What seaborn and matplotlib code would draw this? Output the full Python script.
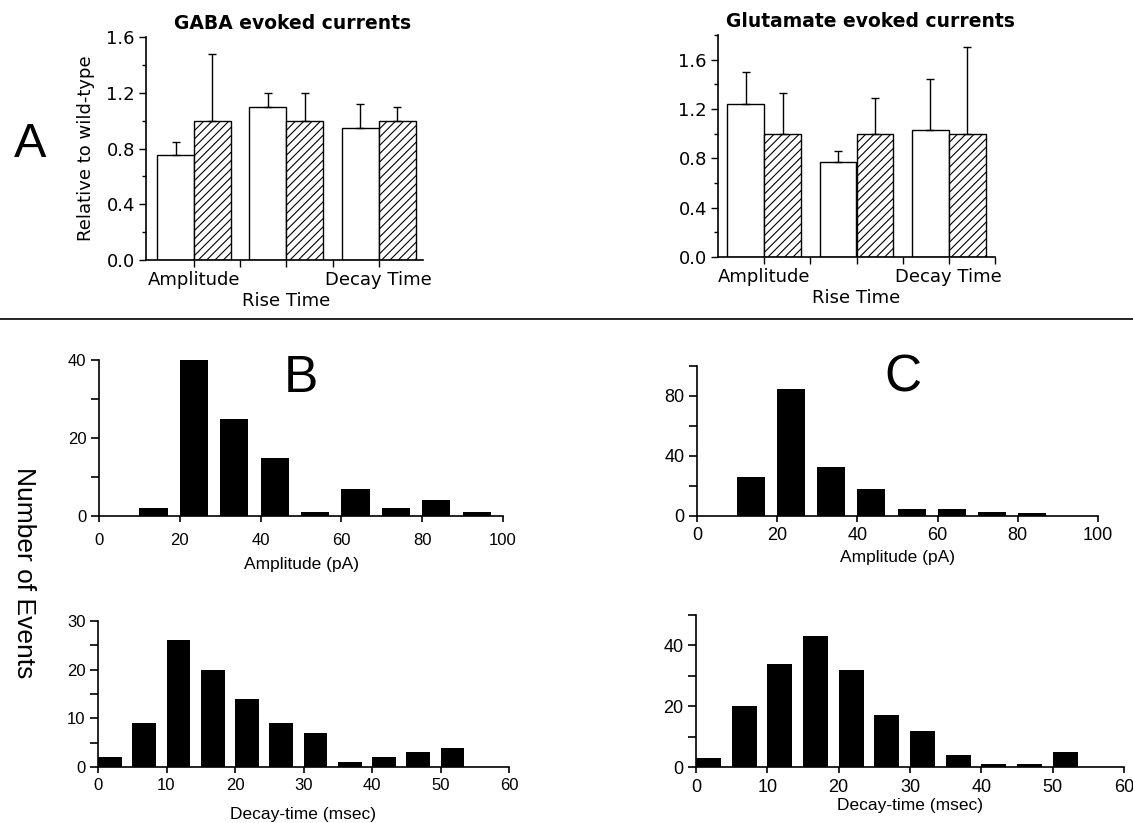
import numpy as np
import pandas as pd
import matplotlib
matplotlib.use("Agg")
import matplotlib.pyplot as plt
from matplotlib.lines import Line2D
from matplotlib.ticker import MultipleLocator, FixedLocator, FormatStrFormatter
import seaborn as sns

# Panel A: evoked currents, relative to wild-type (white = mutant, hatched = wild-type)
measures = ["Amplitude", "Rise Time", "Decay Time"]
genotypes = ["mutant", "wild-type"]
gaba_mutant = [0.75, 1.10, 0.95]
gaba_mutant_err = [0.10, 0.10, 0.17]
gaba_wt = [1.0, 1.0, 1.0]
gaba_wt_err = [0.48, 0.20, 0.10]
glu_mutant = [1.24, 0.77, 1.03]
glu_mutant_err = [0.26, 0.09, 0.41]
glu_wt = [1.0, 1.0, 1.0]
glu_wt_err = [0.33, 0.29, 0.70]

# Panels B / C: event histograms (bin left edges and counts)
amp_bin_w = 10
decay_bin_w = 5
b_amp_bins = [10, 20, 30, 40, 50, 60, 70, 80, 90]
b_amp_counts = [2, 40, 25, 15, 1, 7, 2, 4, 1]
c_amp_bins = [10, 20, 30, 40, 50, 60, 70, 80]
c_amp_counts = [26, 85, 33, 18, 5, 5, 3, 2]
b_decay_bins = [0, 5, 10, 15, 20, 25, 30, 35, 40, 45, 50]
b_decay_counts = [2, 9, 26, 20, 14, 9, 7, 1, 2, 3, 4]
c_decay_bins = [0, 5, 10, 15, 20, 25, 30, 35, 40, 45, 50]
c_decay_counts = [3, 20, 34, 43, 32, 17, 12, 4, 1, 1, 5]

W, H = 1133, 823

sns.set_style("ticks")
plt.rcParams["font.family"] = ["Liberation Sans", "DejaVu Sans"]
plt.rcParams["hatch.linewidth"] = 0.8
plt.rcParams["axes.linewidth"] = 1.2
for key in ["text.color", "axes.labelcolor", "xtick.color", "ytick.color",
            "axes.edgecolor"]:
    plt.rcParams[key] = "black"


def px_box(left, top, right, bottom):
    """Axes rectangle from pixel edges (origin top-left)."""
    return [left / W, 1 - bottom / H, (right - left) / W, (bottom - top) / H]


def evoked_panel(ax, mutant, mutant_err, wt, wt_err, title, ylim, xlim, title_x):
    df = pd.DataFrame({
        "measure": measures * 2,
        "genotype": ["mutant"] * 3 + ["wild-type"] * 3,
        "value": list(mutant) + list(wt),
    })
    sns.barplot(data=df, x="measure", y="value", hue="genotype",
                order=measures, hue_order=genotypes,
                palette=["white", "white"], saturation=1, width=0.8,
                edgecolor="black", linewidth=1, errorbar=None,
                legend=False, ax=ax)
    for p in ax.containers[1]:
        p.set_hatch("////")
    for cont, err in zip(ax.containers, [mutant_err, wt_err]):
        xs = [p.get_x() + p.get_width() / 2 for p in cont]
        ys = [p.get_height() for p in cont]
        ax.errorbar(xs, ys, yerr=[np.zeros(len(err)), err], fmt="none",
                    ecolor="black", elinewidth=1, capsize=3, capthick=1)
    ax.set_xlim(*xlim)
    ax.set_ylim(*ylim)
    ax.yaxis.set_major_locator(MultipleLocator(0.4))
    ax.yaxis.set_minor_locator(MultipleLocator(0.2))
    ax.yaxis.set_major_formatter(FormatStrFormatter("%.1f"))
    ax.set_xticks([0, 1, 2], ["Amplitude", "\nRise Time", "Decay Time"])
    ax.xaxis.set_minor_locator(FixedLocator([0.5, 1.5, 2.5]))
    ax.set_xlabel("")
    ax.set_ylabel("")
    sns.despine(ax=ax)
    ax.tick_params(which="major", direction="out", length=5, width=1,
                   labelsize=13, pad=3)
    ax.tick_params(axis="y", which="minor", direction="out", length=3, width=1)
    ax.tick_params(axis="x", which="minor", direction="out", length=5, width=1)
    for lab in ax.get_xticklabels() + ax.get_yticklabels():
        lab.set_family("DejaVu Sans")
    ax.set_title(title, fontsize=13.5, fontweight="bold", family="DejaVu Sans",
                 x=title_x, pad=6)


def hist_panel(ax, bins, counts, bin_w, xlabel, xmax, ymax, y_major, y_minor,
               x_major, fs, xpad, labelpad):
    centers = np.asarray(bins) + 0.35 * bin_w
    sns.barplot(x=centers, y=counts, native_scale=True, orient="x", width=0.7,
                color="black", saturation=1, linewidth=0, errorbar=None, ax=ax)
    ax.set_xlim(0, xmax)
    ax.set_ylim(0, ymax)
    ax.xaxis.set_major_locator(MultipleLocator(x_major))
    ax.yaxis.set_major_locator(MultipleLocator(y_major))
    ax.yaxis.set_minor_locator(MultipleLocator(y_minor))
    sns.despine(ax=ax)
    ax.tick_params(axis="x", which="major", direction="out", length=4, width=1.2,
                   labelsize=fs, pad=xpad)
    ax.tick_params(axis="y", which="both", direction="out", length=6, width=1.2,
                   labelsize=fs, pad=3)
    ax.set_xlabel(xlabel, fontsize=12.5, labelpad=labelpad)
    ax.set_ylabel("")


fig = plt.figure(figsize=(W / 100, H / 100), dpi=100)

ax_gaba = fig.add_axes(px_box(146, 37, 423, 260))
evoked_panel(ax_gaba, gaba_mutant, gaba_mutant_err, gaba_wt, gaba_wt_err,
             "GABA evoked currents", (0, 1.6), (-0.52, 2.48), 0.53)
ax_gaba.set_ylabel("Relative to wild-type", fontsize=13, family="DejaVu Sans",
                   labelpad=8)

ax_glu = fig.add_axes(px_box(718, 35, 995, 257))
evoked_panel(ax_glu, glu_mutant, glu_mutant_err, glu_wt, glu_wt_err,
             "Glutamate evoked currents", (0, 1.8), (-0.5, 2.5), 0.55)

ax_bamp = fig.add_axes(px_box(99, 360, 503, 516))
hist_panel(ax_bamp, b_amp_bins, b_amp_counts, amp_bin_w, "Amplitude (pA)",
           100, 40, 20, 10, 20, 12, 8, 7)
ax_bdec = fig.add_axes(px_box(98, 621, 509, 767))
hist_panel(ax_bdec, b_decay_bins, b_decay_counts, decay_bin_w,
           "Decay-time (msec)", 60, 30, 10, 5, 10, 12, 4, 10)
ax_camp = fig.add_axes(px_box(697, 366, 1098, 516))
hist_panel(ax_camp, c_amp_bins, c_amp_counts, amp_bin_w, "Amplitude (pA)",
           100, 100, 40, 20, 20, 13, 4, 4)
ax_cdec = fig.add_axes(px_box(696, 615, 1124, 767))
hist_panel(ax_cdec, c_decay_bins, c_decay_counts, decay_bin_w,
           "Decay-time (msec)", 60, 50, 20, 10, 10, 13, 5, 1)

# panel letters, shared y label and separator line
fig.text(30 / W, 1 - 157 / H, "A", fontsize=35, ha="center", va="baseline")
fig.text(301 / W, 1 - 392 / H, "B", fontsize=37, ha="center", va="baseline")
fig.text(903 / W, 1 - 392 / H, "C", fontsize=37, ha="center", va="baseline")
fig.text(24 / W, 1 - 573 / H, "Number of Events", fontsize=19, rotation=270,
         ha="center", va="center")
fig.add_artist(Line2D([0, 1], [1 - 319 / H] * 2, transform=fig.transFigure,
                      color="black", linewidth=1.2))

fig.savefig("out.png", dpi=100)
